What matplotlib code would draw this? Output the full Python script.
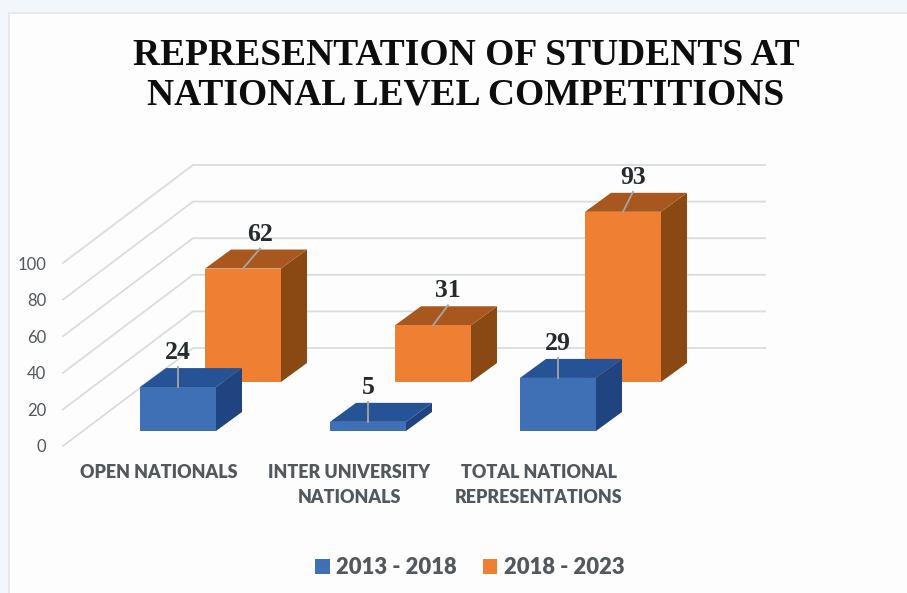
import matplotlib
matplotlib.use('Agg')
import matplotlib.pyplot as plt
from matplotlib.patches import Polygon, Rectangle, Patch

# ---------------------- Data

categories = ['OPEN NATIONALS', 'INTER UNIVERSITY\nNATIONALS', 'TOTAL NATIONAL\nREPRESENTATIONS']
series_names = ['2013 - 2018', '2018 - 2023']
values_first = [24, 5, 29]
values_second = [62, 31, 93]
y_ticks = [0, 20, 40, 60, 80, 100]
title = 'REPRESENTATION OF STUDENTS AT\nNATIONAL LEVEL COMPETITIONS'

# ---------------------- Layout, in pixels of the 907x593 picture

W, H = 907, 593
perCat = 190.0      # px between categories
perVal = 1.83       # px per value unit
originX, originY = 178.0, 446.0   # first category, value 0 on the front of the floor

barW = 76
barDepth = (26, 19)
wallDepth = (130, 98)
wallLeft, wallRight = 63, 765

blue = {'front': '#3f6fb4', 'side': '#20447f', 'top': '#265296'}
orange = {'front': '#ee7f33', 'side': '#8a4913', 'top': '#a8581e'}
textDark = '#262b2e'
textGrey = '#52585b'
gridColor = '#d9dddd'

plt.rcParams['font.family'] = ['Lato', 'DejaVu Sans']

fig = plt.figure(figsize=(W/100, H/100), dpi=100)
fig.patch.set_facecolor('#f3f7fb')
fig.add_artist(Rectangle((9/W, -0.1), 1, (H-13)/H + 0.1, transform=fig.transFigure,
                         facecolor='#fdfdfd', edgecolor='#e4e6e6', linewidth=1.2, zorder=-1))

ax = fig.add_axes([0, 0, 1, 1])
ax.patch.set_alpha(0)
ax.set_xlim(-originX/perCat, (W-originX)/perCat)
ax.set_ylim(-(H-originY)/perVal, originY/perVal)
ax.axis('off')

# ---------------------- Functions

def pt(cat, val, ox=0, oy=0):
    # category and value, shifted by some pixels (oy is upwards)
    return (cat + ox/perCat, val + oy/perVal)

def drawBar(cat, val, ox, oy, colors):
    dx, dy = barDepth
    l, r = ox - barW/2, ox + barW/2
    ax.add_patch(Polygon([pt(cat, 0, r, oy), pt(cat, 0, r+dx, oy+dy),
                          pt(cat, val, r+dx, oy+dy), pt(cat, val, r, oy)],
                         facecolor=colors['side'], edgecolor='none', zorder=3))
    ax.add_patch(Polygon([pt(cat, val, l, oy), pt(cat, val, r, oy),
                          pt(cat, val, r+dx, oy+dy), pt(cat, val, l+dx, oy+dy)],
                         facecolor=colors['top'], edgecolor='none', zorder=3))
    ax.add_patch(Rectangle(pt(cat, 0, l, oy), barW/perCat, val,
                           facecolor=colors['front'], edgecolor='none', zorder=3))

def drawLabel(cat, val, ox, oy, leadX):
    leadY = 20
    ax.plot(*zip(pt(cat, val, ox, oy), pt(cat, val, ox+leadX, oy+leadY)),
            color='#a6a6a6', linewidth=1.3, zorder=4)
    ax.text(*pt(cat, val, ox+leadX, oy+leadY+3), str(val), ha='center', va='bottom',
            fontsize=18.5, fontweight='bold', family='Liberation Serif', color=textDark, zorder=5)

# ---------------------- Wall and floor

for t in y_ticks:
    ax.plot(*zip(pt(0, t, wallLeft-originX, 0),
                 pt(0, t, wallLeft-originX+wallDepth[0], wallDepth[1]),
                 pt(0, t, wallRight-originX, wallDepth[1])),
            color=gridColor, linewidth=1.3, zorder=1)
    ax.text(*pt(0, t, 46-originX, -1.5), str(t), ha='right', va='center',
            fontsize=12, color=textGrey)

# ---------------------- Bars, back row first

orangeOffset = (65, 64)
blueOffset = (0, 15)
orangeLead = [17, 15, 10]

for i in range(len(categories)):
    drawBar(i, values_second[i], orangeOffset[0], orangeOffset[1], orange)
for i in range(len(categories)):
    drawBar(i, values_first[i], blueOffset[0], blueOffset[1], blue)
for i in range(len(categories)):
    drawLabel(i, values_second[i], orangeOffset[0], orangeOffset[1], orangeLead[i])
    drawLabel(i, values_first[i], blueOffset[0], blueOffset[1], 0)

# ---------------------- Text

for i, name in enumerate(categories):
    ax.text(*pt(i, 0, -19, -18), name, ha='center', va='top', fontsize=12.9,
            fontweight='heavy', color=textGrey, linespacing=1.6)

ax.text(466/W, 1-75.5/H, title, transform=ax.transAxes, ha='center', va='center',
        fontsize=27, fontweight='bold', family='Liberation Serif', color='#0d0d0d',
        linespacing=1.16)

handles = [Patch(facecolor=blue['front'], label=series_names[0]),
           Patch(facecolor=orange['front'], label=series_names[1])]
leg = ax.legend(handles=handles, ncol=2, frameon=False, loc='center',
                bbox_to_anchor=(470/W, 1-568/H), fontsize=15.8,
                handlelength=0.65, handleheight=0.65, handletextpad=0.3, columnspacing=1.2)
for t in leg.get_texts():
    t.set_color(textGrey)
    t.set_fontweight('heavy')

plt.savefig('out.png', dpi=100, facecolor=fig.get_facecolor())
